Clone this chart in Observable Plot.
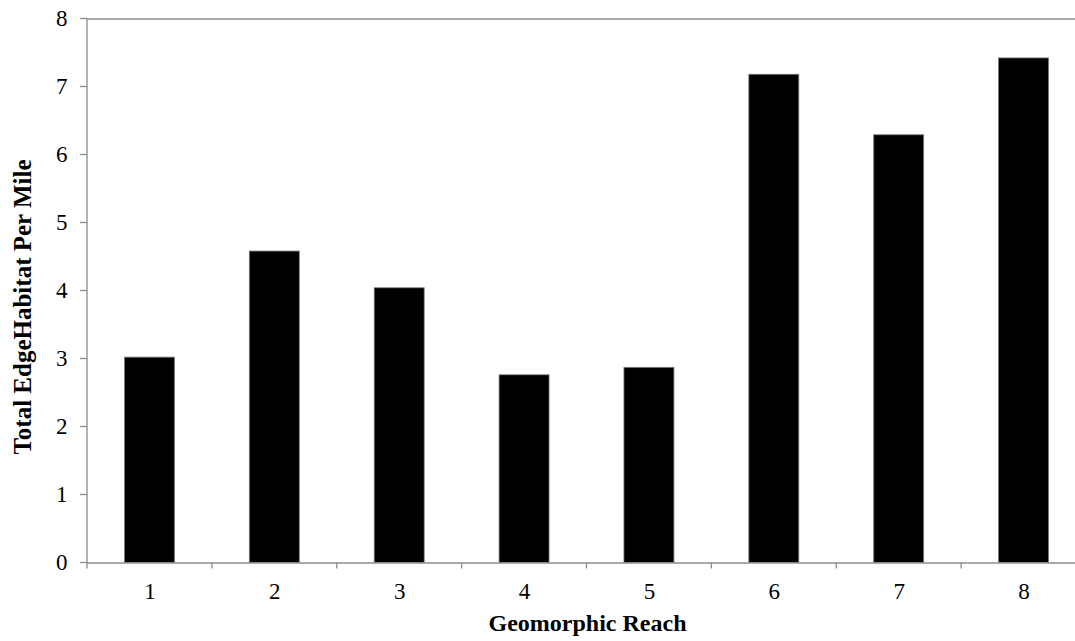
<!DOCTYPE html>
<html>
<head>
<meta charset="utf-8">
<script src="https://cdn.jsdelivr.net/npm/d3@7"></script>
<script src="https://cdn.jsdelivr.net/npm/@observablehq/plot@0.6"></script>
<style>
  html, body { margin: 0; padding: 0; background: #fff; }
  #chart svg { display: block; }
</style>
</head>
<body>
<div id="chart"></div>
<script>
const reaches = ["1", "2", "3", "4", "5", "6", "7", "8"];
const edgeHabitat = [3.02, 4.58, 4.04, 2.76, 2.87, 7.18, 6.29, 7.42];
const yTicks = [0, 1, 2, 3, 4, 5, 6, 7, 8];
const xTitle = "Geomorphic Reach";
const yTitle = "Total EdgeHabitat Per Mile";

const data = reaches.map((r, i) => ({reach: r, value: edgeHabitat[i]}));

const W = 1075, H = 641;
const X0 = 87, X1 = 1086;
const axisGray = "#8c8c8c";

const chart = Plot.plot({
  width: W,
  height: H,
  marginLeft: X0,
  marginRight: 0,
  marginTop: 18.5,
  marginBottom: 78.5,
  style: {fontFamily: "'Liberation Serif', 'Times New Roman', serif", fontSize: "23px", color: "#000", overflow: "visible"},
  x: {type: "band", domain: reaches, range: [X0, X1], paddingInner: 0.6, paddingOuter: 0.3, align: 0.5, round: false, axis: null},
  y: {domain: [0, 8], axis: null},
  marks: [
    Plot.ruleY([8], {stroke: axisGray, strokeWidth: 1.3}),
    Plot.barY(data, {x: "reach", y: "value", fill: "#000", stroke: "#777", strokeWidth: 0.8}),
    Plot.ruleY([0], {stroke: axisGray, strokeWidth: 1.3}),
    Plot.text(yTicks, {y: d => d, frameAnchor: "left", dx: -20, textAnchor: "end", lineAnchor: "middle", text: d => String(d), fontSize: 23}),
    Plot.text(reaches, {x: d => d, frameAnchor: "bottom", lineAnchor: "middle", dy: 29, text: d => d, fontSize: 23}),
    Plot.text([xTitle], {frameAnchor: "bottom", textAnchor: "middle", lineAnchor: "middle", dx: 6, dy: 60, text: d => d, fontWeight: "bold", fontSize: 24}),
    Plot.text([yTitle], {frameAnchor: "left", textAnchor: "middle", lineAnchor: "middle", rotate: -90, dx: -65, dy: 16, text: d => d, fontWeight: "bold", fontSize: 25})
  ]
});

// axis line and ticks positioned from the chart's own scales
const svg = d3.select(chart);
const yScale = chart.scale("y");
const xScale = chart.scale("x");
const y0 = yScale.apply(0), y8 = yScale.apply(8);
const step = xScale.step;
const firstBand = xScale.apply(reaches[0]) - step * xScale.paddingOuter;
const boundaries = d3.range(reaches.length + 1).map(i => firstBand + i * step);
const g = svg.append("g").attr("stroke", axisGray).attr("stroke-width", 1.3);
g.append("line").attr("x1", X0).attr("x2", X0).attr("y1", y8).attr("y2", y0);
for (const t of yTicks) {
  const yy = yScale.apply(t);
  g.append("line").attr("x1", X0 - 7).attr("x2", X0).attr("y1", yy).attr("y2", yy);
}
for (const bx of boundaries) {
  g.append("line").attr("x1", bx).attr("x2", bx).attr("y1", y0).attr("y2", y0 + 6);
}
document.getElementById("chart").appendChild(chart);
</script>
</body>
</html>
